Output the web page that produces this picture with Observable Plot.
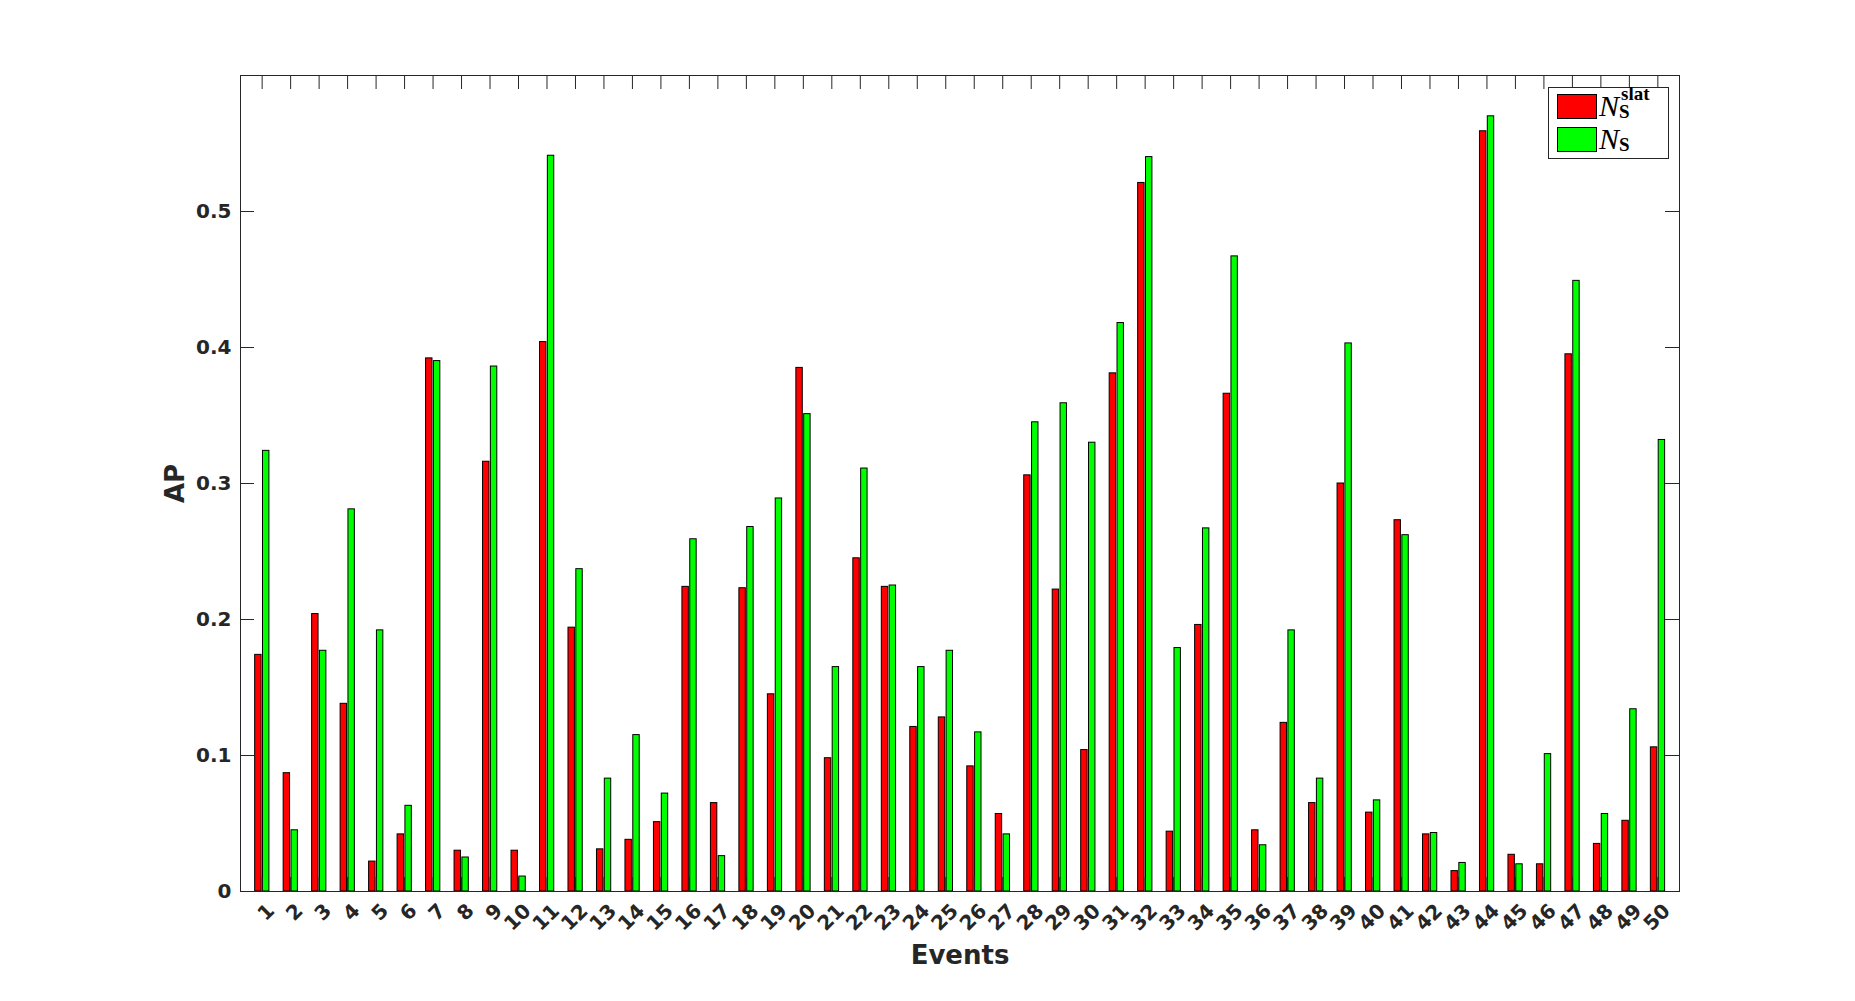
<!DOCTYPE html>
<html><head><meta charset="utf-8">
<script src="https://cdn.jsdelivr.net/npm/d3@7"></script>
<script src="https://cdn.jsdelivr.net/npm/@observablehq/plot@0.6"></script>
<style>
body{margin:0;background:#fff;}
#wrap{position:relative;width:1855px;height:1001px;}
#legend{position:absolute;left:1548px;top:87px;width:121px;height:72px;border:1px solid #262626;background:#fff;box-sizing:border-box;}
.sw{position:absolute;left:8px;width:40px;height:25px;border:1px solid #000;box-sizing:border-box;}
.lab{position:absolute;left:50px;font-family:"Liberation Serif","DejaVu Serif",serif;color:#000;white-space:nowrap;}
.N{font-style:italic;font-size:30px;line-height:30px;}
.st{position:absolute;font-weight:bold;}
</style></head><body><div id="wrap"></div>
<script>
const events = [1,2,3,4,5,6,7,8,9,10,11,12,13,14,15,16,17,18,19,20,21,22,23,24,25,26,27,28,29,30,31,32,33,34,35,36,37,38,39,40,41,42,43,44,45,46,47,48,49,50];
const apSlat = [0.174,0.087,0.204,0.138,0.022,0.042,0.392,0.030,0.316,0.030,
0.404,0.194,0.031,0.038,0.051,0.224,0.065,0.223,0.145,0.385,
0.098,0.245,0.224,0.121,0.128,0.092,0.057,0.306,0.222,0.104,
0.381,0.521,0.044,0.196,0.366,0.045,0.124,0.065,0.300,0.058,
0.273,0.042,0.015,0.559,0.027,0.020,0.395,0.035,0.052,0.106];
const apPlain = [0.324,0.045,0.177,0.281,0.192,0.063,0.390,0.025,0.386,0.011,
0.541,0.237,0.083,0.115,0.072,0.259,0.026,0.268,0.289,0.351,
0.165,0.311,0.225,0.165,0.177,0.117,0.042,0.345,0.359,0.330,
0.418,0.540,0.179,0.267,0.467,0.034,0.192,0.083,0.403,0.067,
0.262,0.043,0.021,0.570,0.020,0.101,0.449,0.057,0.134,0.332];
const yTicks = [0,0.1,0.2,0.3,0.4,0.5];
const seriesColors = ["#ff0000","#00ff00"];

const rows = events.map((e,i)=>({event:e, slat:apSlat[i], plain:apPlain[i]}));
const W=1855,H=1001,mL=240,mR=176,mT=75,mB=110;
const innerH=H-mT-mB, innerW=W-mL-mR, tickLen=14;

const chart = Plot.plot({
  width:W, height:H, marginLeft:mL, marginRight:mR, marginTop:mT, marginBottom:mB,
  style:{fontFamily:"DejaVu Sans", fontWeight:"bold", fontSize:"20px", color:"#262626", background:"#fff", overflow:"visible"},
  x:{domain:[0.24,50.76]},
  y:{domain:[0,0.6]},
  marks:[
    Plot.rect(rows,{x1:d=>d.event-0.245,x2:d=>d.event-0.02,y1:0,y2:"slat",fill:seriesColors[0],stroke:"#000",strokeWidth:1}),
    Plot.rect(rows,{x1:d=>d.event+0.03,x2:d=>d.event+0.255,y1:0,y2:"plain",fill:seriesColors[1],stroke:"#000",strokeWidth:1}),
    Plot.tickX(events,{x:d=>d, insetTop:innerH-tickLen, stroke:"#262626"}),
    Plot.tickX(events,{x:d=>d, insetBottom:innerH-tickLen, stroke:"#262626"}),
    Plot.tickY(yTicks,{y:d=>d, insetRight:innerW-tickLen, stroke:"#262626"}),
    Plot.tickY(yTicks,{y:d=>d, insetLeft:innerW-tickLen, stroke:"#262626"}),
    Plot.frame({stroke:"#262626"}),
    Plot.axisX(events,{tickSize:0, tickRotate:-45, tickPadding:16, dx:9, tickFormat:d=>String(d), label:null, fill:"#262626"}),
    Plot.axisY(yTicks,{tickSize:0, tickPadding:9, tickFormat:d=>String(d), label:null, fill:"#262626"}),
    Plot.text(["Events"],{text:d=>d, frameAnchor:"bottom", lineAnchor:"middle", textAnchor:"middle", dy:64, fontSize:26, fontWeight:"bold", fill:"#262626"}),
    Plot.text(["AP"],{text:d=>d, frameAnchor:"left", lineAnchor:"middle", textAnchor:"middle", dx:-65, rotate:-90, fontSize:26, fontWeight:"bold", fill:"#262626"})
  ]
});
const wrap=document.getElementById("wrap");
wrap.appendChild(chart);

const legend=document.createElement("div");
legend.id="legend";
legend.innerHTML=`
<div class="sw" style="top:6px;background:${seriesColors[0]}"></div>
<div class="lab" style="top:3px"><span class="N">N</span><span class="st" style="left:22px;top:-8px;font-size:19px">slat</span><span class="st" style="left:20px;top:10px;font-size:19px">S</span></div>
<div class="sw" style="top:39px;background:${seriesColors[1]}"></div>
<div class="lab" style="top:36px"><span class="N">N</span><span class="st" style="left:20px;top:10px;font-size:19px">S</span></div>`;
wrap.appendChild(legend);
</script>
</body></html>
